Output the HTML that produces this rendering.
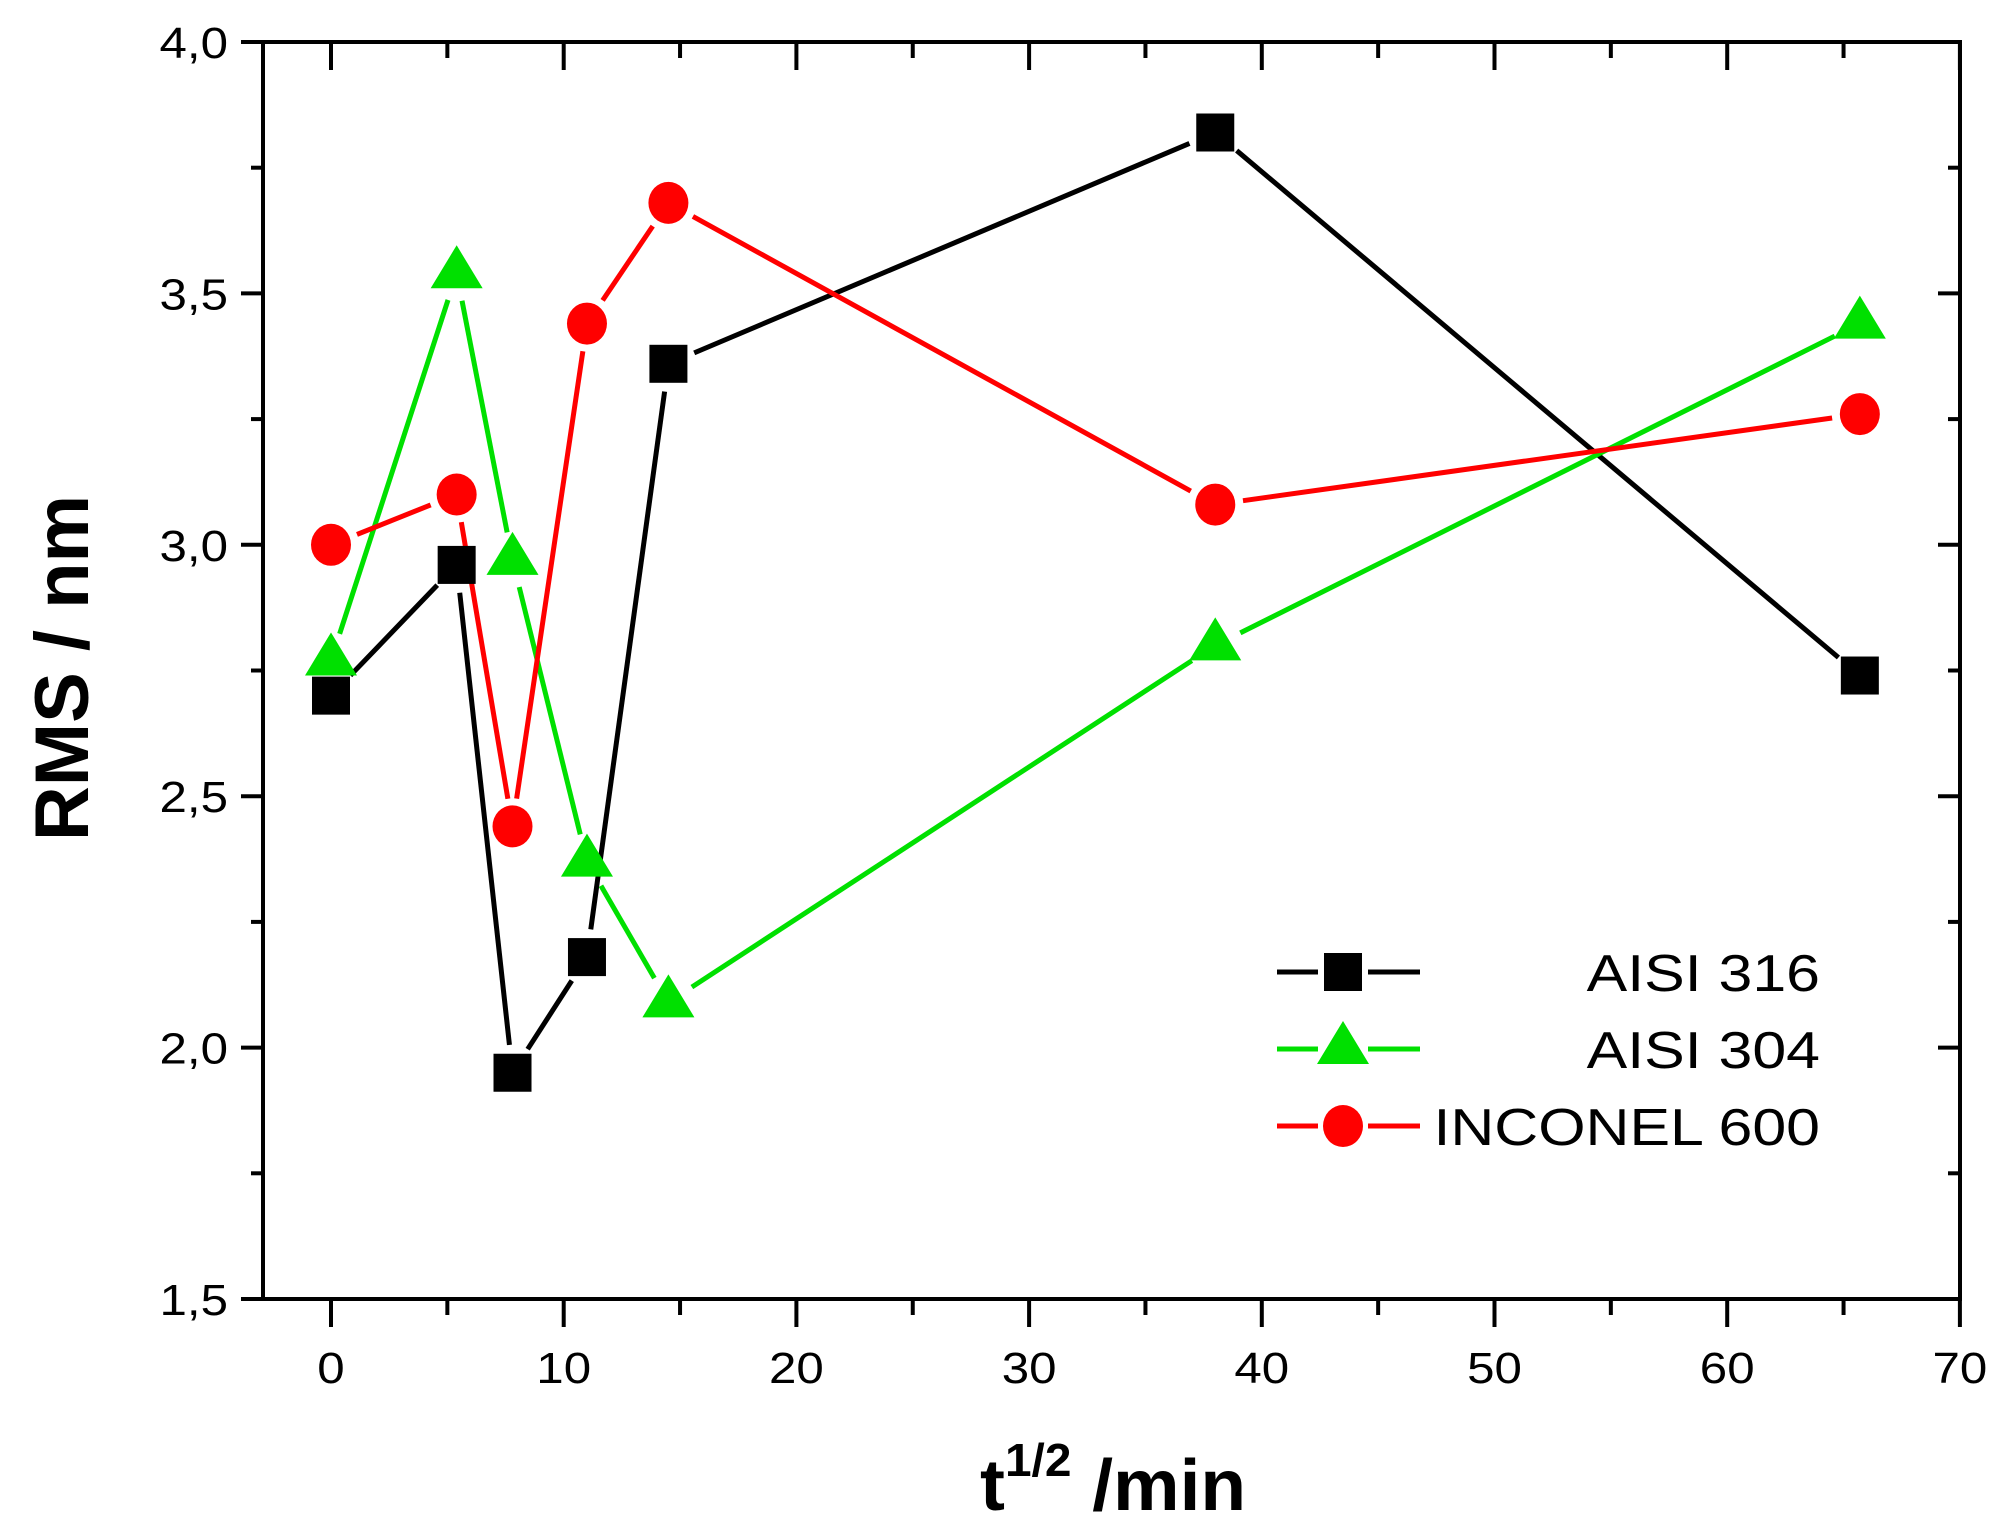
<!DOCTYPE html>
<html><head><meta charset="utf-8"><style>
html,body{margin:0;padding:0;background:#fff;}
svg{display:block;}
text{font-family:"Liberation Sans",Arial,sans-serif;fill:#000;}
</style></head><body>
<svg id="s" width="2006" height="1533" viewBox="0 0 2006 1533" xmlns="http://www.w3.org/2000/svg">
<rect width="2006" height="1533" fill="#fff"/>
<g id="axes" stroke="#000" stroke-width="4" fill="none"></g>
<g id="data"></g>
<g id="labels" font-size="44"></g>
<text transform="translate(980,1510) scale(1.04,1)" font-size="72" font-weight="bold">t<tspan dy="-34" font-size="46">1/2</tspan><tspan dy="34"> /min</tspan></text>
<text transform="translate(88,668) rotate(-90)" text-anchor="middle" font-size="76" font-weight="bold">RMS / nm</text>
<g id="legend"></g>
</svg>
<script>
const NS="http://www.w3.org/2000/svg";
const X0=331,XS=23.27,Y0=42,YS=502.8;
const L=263,R=1960,T=42,B=1299;
const px=v=>X0+v*XS, py=v=>Y0+(4-v)*YS;
function el(p,tag,a,txt){const e=document.createElementNS(NS,tag);for(const k in a)e.setAttribute(k,a[k]);if(txt!==undefined)e.textContent=txt;p.appendChild(e);return e;}
function tx(p,x,y,anchor,s,txt,extra){const a=Object.assign({transform:`translate(${x},${y}) scale(${s},1)`,'text-anchor':anchor},extra||{});return el(p,'text',a,txt);}
const ax=document.getElementById('axes'),lb=document.getElementById('labels');
el(ax,'rect',{x:L,y:T,width:R-L,height:B-T});
for(let v=-5;v<=70;v+=5){const x=px(v);if(x<L-1)continue;const maj=v%10==0;
 el(ax,'line',{x1:x,y1:B,x2:x,y2:B+(maj?28:16)});
 el(ax,'line',{x1:x,y1:T,x2:x,y2:T+(maj?28:16)});
 if(maj)tx(lb,x,1383,'middle',1.12,String(v));}
for(let i=0;i<=10;i++){const v=1.5+i*0.25,y=py(v);const maj=i%2==0;
 el(ax,'line',{x1:L,y1:y,x2:L-(maj?22:12),y2:y});
 el(ax,'line',{x1:R,y1:y,x2:R-(maj?22:12),y2:y});
 if(maj)tx(lb,228,y+16,'end',1.12,v.toFixed(1).replace('.',','));}
const xs=[0,5.4,7.8,11,14.5,38,65.7];
const series=[
 {c:'#000',m:'sq',y:[2.70,2.96,1.95,2.18,3.36,3.82,2.74]},
 {c:'#00e000',m:'tri',y:[2.77,3.54,2.97,2.37,2.09,2.80,3.44]},
 {c:'#ff0000',m:'ci',y:[3.00,3.10,2.44,3.44,3.68,3.08,3.26]}];
const dg=document.getElementById('data');
function marker(g,m,x,y,c){
 if(m=='sq')el(g,'rect',{x:x-19,y:y-19,width:38,height:38,fill:c});
 else if(m=='ci')el(g,'ellipse',{cx:x,cy:y,rx:20,ry:21,fill:c});
 else el(g,'polygon',{points:`${x},${y-28} ${x+26},${y+15} ${x-26},${y+15}`,fill:c});}
for(const s of series){
 const P=xs.map((v,i)=>[px(v),py(s.y[i])]);
 for(let i=0;i<P.length-1;i++){const [a,b]=[P[i],P[i+1]];const dx=b[0]-a[0],dy=b[1]-a[1],d=Math.hypot(dx,dy),g=28;
  if(d<2*g)continue;const ux=dx/d,uy=dy/d;
  el(dg,'line',{x1:a[0]+ux*g,y1:a[1]+uy*g,x2:b[0]-ux*g,y2:b[1]-uy*g,stroke:s.c,'stroke-width':5});}
}
for(const s of series){xs.forEach((v,i)=>marker(dg,s.m,px(v),py(s.y[i]),s.c));}
const lg=document.getElementById('legend');
const names=['AISI 316','AISI 304','INCONEL 600'],ly=[972,1049,1126];
series.forEach((s,i)=>{const y=ly[i];
 el(lg,'line',{x1:1277,y1:y,x2:1318,y2:y,stroke:s.c,'stroke-width':5});
 el(lg,'line',{x1:1368,y1:y,x2:1420,y2:y,stroke:s.c,'stroke-width':5});
 marker(lg,s.m,1343,y,s.c);
 tx(lg,1820,y+19,'end',1.17,names[i],{'font-size':52});});
</script>
</body></html>
